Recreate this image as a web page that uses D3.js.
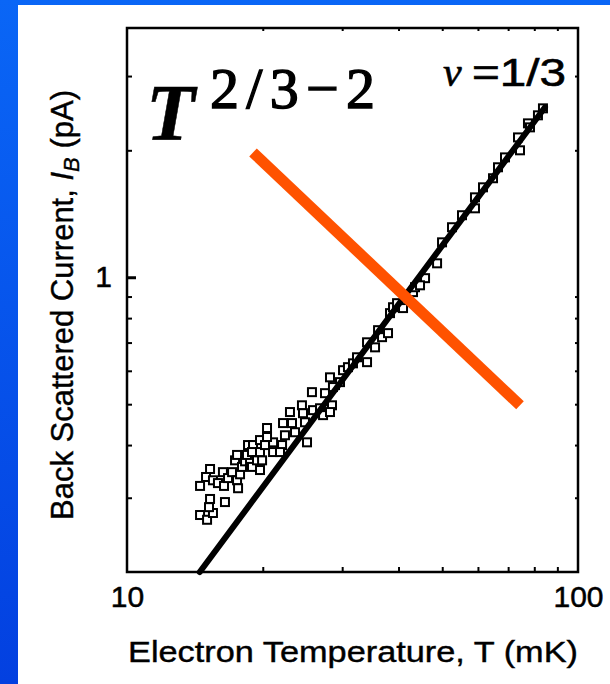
<!DOCTYPE html>
<html>
<head>
<meta charset="utf-8">
<script src="https://cdn.jsdelivr.net/npm/d3@7"></script>
<style>
  html, body { margin: 0; padding: 0; background: #0a5ff2; }
  svg { display: block; }
</style>
</head>
<body>
<svg id="chart" width="610" height="684"></svg>
<script>
// Electron temperature (mK) and back-scattered current (pA) for each measured point
const tempMK = [
  14.52, 15.05, 15.51, 15.20, 15.28, 16.49, 14.52, 15.28, 14.97, 15.51,
  15.91, 16.32, 16.41, 16.75, 17.10, 17.54, 17.63, 17.81, 17.36, 17.54,
  17.99, 18.27, 18.74, 18.93, 18.45, 18.55, 19.03, 18.93, 19.42, 19.72,
  19.93, 19.72, 19.72, 20.44, 20.23, 21.08, 21.08, 20.44, 22.07, 22.40,
  21.84, 22.18, 22.98, 23.22, 23.58, 24.43, 24.56, 25.07, 24.81, 25.71,
  25.85, 26.79, 27.48, 27.21, 28.48, 28.19, 28.92, 29.67, 28.19, 30.13,
  28.62, 30.90, 31.70, 32.36, 34.06, 34.06, 35.48, 36.03, 36.77, 37.91,
  38.30, 38.89, 39.70, 40.93, 43.07, 43.51, 45.80, 44.64, 48.70, 49.95,
  52.56, 55.31, 59.10, 59.10, 61.57, 64.80, 66.47, 68.89, 83.62, 81.51,
  77.46, 78.26, 73.62, 74.37
];
const currentPA = [
  0.273, 0.266, 0.276, 0.285, 0.298, 0.293, 0.320, 0.351, 0.336, 0.330,
  0.325, 0.345, 0.320, 0.334, 0.345, 0.330, 0.316, 0.341, 0.368, 0.379,
  0.355, 0.366, 0.368, 0.355, 0.379, 0.400, 0.400, 0.385, 0.368, 0.349,
  0.368, 0.385, 0.411, 0.439, 0.400, 0.406, 0.385, 0.418, 0.400, 0.422,
  0.385, 0.451, 0.479, 0.451, 0.429, 0.497, 0.476, 0.406, 0.453, 0.534,
  0.484, 0.489, 0.531, 0.471, 0.497, 0.479, 0.555, 0.564, 0.579, 0.602,
  0.549, 0.612, 0.625, 0.646, 0.629, 0.701, 0.682, 0.749, 0.721, 0.737,
  0.822, 0.849, 0.868, 0.845, 0.922, 0.947, 0.995, 0.957, 1.079, 1.210,
  1.314, 1.403, 1.457, 1.547, 1.634, 1.717, 1.823, 1.924, 2.515, 2.421,
  2.317, 2.267, 2.146, 2.000
];

// Power-law fit through the high-temperature data (end points in T, I_B)
const fitT = [14.5, 84.5];
const fitI = [0.2, 2.53];

// Struck-through annotation line (end points in T, I_B)
const crossT = [19.03, 74.37];
const crossI = [1.977, 0.497];

// Axis ticks and labels
const xDomain = [10, 100];
const yDomain = [0.2, 3.9];
const xTickLabels = [10, 100];
const xMinorTicks = [20, 30, 40, 50, 60, 70, 80, 90];
const yTickLabels = [1];
const yMinorTicks = [0.3, 0.4, 0.5, 0.6, 0.7, 0.8, 0.9, 2, 3];

const svg = d3.select("#chart");

// page background: blue frame with a white panel
const defs = svg.append("defs");
const grad = defs.append("linearGradient").attr("id", "bg").attr("x1", 0).attr("y1", 0).attr("x2", 0).attr("y2", 1);
grad.append("stop").attr("offset", "0%").attr("stop-color", "#0a66f6");
grad.append("stop").attr("offset", "100%").attr("stop-color", "#0340e0");
svg.append("rect").attr("width", 610).attr("height", 684).attr("fill", "url(#bg)");
svg.append("rect").attr("x", 18).attr("y", 5).attr("width", 592).attr("height", 679).attr("fill", "#ffffff");

const plot = { left: 127, right: 578, top: 28, bottom: 572 };

const x = d3.scaleLog().domain(xDomain).range([plot.left, plot.right]);
const y = d3.scaleLog().domain(yDomain).range([plot.bottom, plot.top]);

const sans = "'Liberation Sans', Arial, Helvetica, sans-serif";
const serif = "'Liberation Serif', 'Times New Roman', serif";

// slightly heavier type, like the printed figure
function ink(sel, w) {
  return sel.attr("fill", "#000").attr("stroke", "#000").attr("stroke-width", w).attr("paint-order", "stroke");
}

// minor ticks, all pointing into the plot
function styleAxis(g) {
  g.select(".domain").remove();
  g.selectAll("line").attr("stroke", "#000").attr("stroke-width", 2);
}
svg.append("g").attr("transform", `translate(0,${plot.bottom})`)
  .call(d3.axisBottom(x).tickValues(xMinorTicks).tickSize(-5).tickFormat(""))
  .call(styleAxis);
svg.append("g").attr("transform", `translate(0,${plot.top})`)
  .call(d3.axisTop(x).tickValues(xMinorTicks).tickSize(-3).tickFormat(""))
  .call(styleAxis);
svg.append("g").attr("transform", `translate(${plot.left},0)`)
  .call(d3.axisLeft(y).tickValues(yMinorTicks).tickSize(-5).tickFormat(""))
  .call(styleAxis);
svg.append("g").attr("transform", `translate(${plot.right},0)`)
  .call(d3.axisRight(y).tickValues(yMinorTicks).tickSize(-3).tickFormat(""))
  .call(styleAxis);

// labelled ticks
const xLab = svg.append("g").attr("transform", `translate(0,${plot.bottom})`)
  .call(d3.axisBottom(x).tickValues(xTickLabels).tickSize(0).tickPadding(14).tickFormat(d3.format("d")));
xLab.select(".domain").remove();
ink(xLab.selectAll("text").attr("font-family", sans).attr("font-size", 30), 0.5);

const yLab = svg.append("g").attr("transform", `translate(${plot.left},0)`)
  .call(d3.axisLeft(y).tickValues(yTickLabels).tickSize(-9).tickPadding(15).tickFormat(d3.format("d")));
yLab.select(".domain").remove();
yLab.selectAll("line").attr("stroke", "#000").attr("stroke-width", 3);
ink(yLab.selectAll("text").attr("font-family", sans).attr("font-size", 30), 0.5);

// plot frame
svg.append("rect")
  .attr("x", plot.left).attr("y", plot.top)
  .attr("width", plot.right - plot.left).attr("height", plot.bottom - plot.top)
  .attr("fill", "none").attr("stroke", "#000").attr("stroke-width", 2.5);

// data squares
const pts = tempMK.map((t, i) => [t, currentPA[i]]);
const side = 8;
svg.append("g").selectAll("rect").data(pts).join("rect")
  .attr("x", d => x(d[0]) - side / 2)
  .attr("y", d => y(d[1]) - side / 2)
  .attr("width", side).attr("height", side)
  .attr("fill", "#fff").attr("stroke", "#000").attr("stroke-width", 2);

// fit line
const line = d3.line().x(d => x(d[0])).y(d => y(d[1]));
svg.append("path")
  .datum(fitT.map((t, i) => [t, fitI[i]]))
  .attr("d", line)
  .attr("fill", "none").attr("stroke", "#000").attr("stroke-width", 6).attr("stroke-linecap", "round");

// filling-factor label
ink(svg.append("text").attr("x", 443).attr("y", 86)
  .attr("font-family", serif).attr("font-style", "italic").attr("font-size", 42), 0.6).text("ν");
ink(svg.append("text").attr("x", 472).attr("y", 86)
  .attr("font-family", sans).attr("font-size", 38)
  .attr("textLength", 94).attr("lengthAdjust", "spacingAndGlyphs"), 0.6).text("=1/3");

// exponent formula
ink(svg.append("text").attr("x", 146).attr("y", 140)
  .attr("font-family", serif).attr("font-style", "italic").attr("font-weight", "bold")
  .attr("font-size", 80), 0.5).text("T");
ink(svg.append("text").attr("x", 210).attr("y", 108)
  .attr("font-family", serif).attr("font-size", 58)
  .attr("textLength", 165).attr("lengthAdjust", "spacing"), 1.4).text("2/3−2");

// crossing-out stroke
svg.append("path")
  .datum(crossT.map((t, i) => [t, crossI[i]]))
  .attr("d", line)
  .attr("fill", "none").attr("stroke", "#ff5200").attr("stroke-width", 11).attr("stroke-linecap", "butt");

// axis titles
ink(svg.append("text").attr("x", 353).attr("y", 662).attr("text-anchor", "middle")
  .attr("font-family", sans).attr("font-size", 29)
  .attr("textLength", 450).attr("lengthAdjust", "spacingAndGlyphs"), 0.4)
  .text("Electron Temperature, T (mK)");

const yt = ink(svg.append("text")
  .attr("transform", "translate(73,305) rotate(-90)")
  .attr("text-anchor", "middle")
  .attr("font-family", sans).attr("font-size", 31), 0.4);
yt.append("tspan").text("Back Scattered Current, ");
yt.append("tspan").attr("font-style", "italic").text("I");
yt.append("tspan").attr("font-style", "italic").attr("font-size", 22).attr("dy", 6).text("B");
yt.append("tspan").attr("dy", -6).text(" (pA)");
</script>
</body>
</html>
